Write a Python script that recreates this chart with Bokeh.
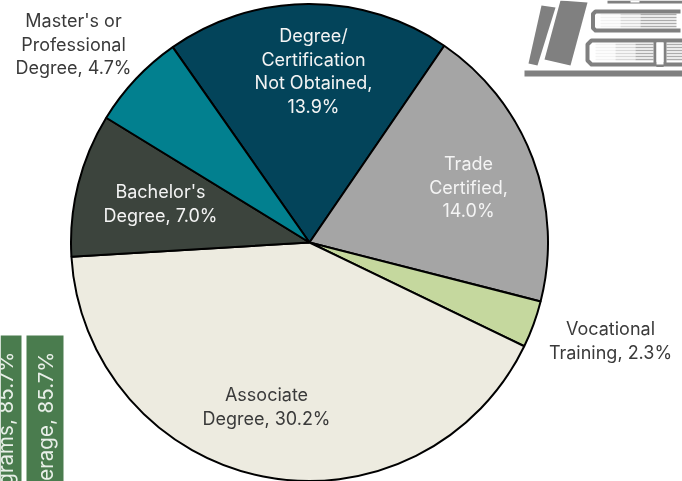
from math import pi
from bokeh.plotting import figure
from bokeh.models import Range1d
from bokeh.core.properties import value
from bokeh.embed import file_html
from bokeh.resources import INLINE

categories = ["Degree/ Certification Not Obtained", "Trade Certified", "Vocational Training",
              "Associate Degree", "Bachelor's Degree", "Master's or Professional Degree"]
values = [13.9, 14.0, 2.3, 30.2, 7.0, 4.7]
colors = ["#03445A", "#A5A5A5", "#C5D89E", "#EDEBE0", "#3C443D", "#02808F"]
label_lines = [["Degree/", "Certification", "Not Obtained,", "13.9%"],
               ["Trade", "Certified,", "14.0%"],
               ["Vocational", "Training, 2.3%"],
               ["Associate", "Degree, 30.2%"],
               ["Bachelor's", "Degree, 7.0%"],
               ["Master's or", "Professional", "Degree, 4.7%"]]
label_colors = ["#F4F4F4", "#F4F4F4", "#3A3A3A", "#3A3A3A", "#F4F4F4", "#3A3A3A"]
label_x = [313, 468, 610, 266, 160, 73]
label_y = [35, 163, 328, 394, 191, 20]
bar_labels = ["grams, 85.7%", "erage, 85.7%"]

W, H = 682, 481
p = figure(width=W, height=H, output_backend="svg", toolbar_location=None,
           x_range=Range1d(0, W), y_range=Range1d(H, 0), min_border=0,
           outline_line_color=None, background_fill_color="white", border_fill_color="white")
p.axis.visible = False
p.grid.visible = False
p.styles = {"position": "fixed", "left": "0px", "top": "0px"}

# pie: wedge angles are measured on screen, running clockwise from the top-left edge
cx, cy, r = 309, 242, 238.5
total = sum(values)
a = 125.0 * pi / 180
for v, c in zip(values, colors):
    b = a - v / total * 2 * pi
    p.wedge([cx], [cy], radius=r, start_angle=a, end_angle=b, direction="clock",
            fill_color=c, line_color="black", line_width=2)
    a = b

FONT = "Inter"
for lines, col, x, y in zip(label_lines, label_colors, label_x, label_y):
    for i, s in enumerate(lines):
        p.text([x], [y + i * 23.5], text=[s], text_color=col, text_align="center",
               text_baseline="middle", text_font=value(FONT), text_font_size="18px")

# cut-off green bars
for x0, x1, xt, s in zip([0, 26], [21, 63], [4.5, 45], bar_labels):
    p.quad(left=[x0], right=[x1], top=[335], bottom=[481], fill_color="#4A7C4E", line_color=None)
    p.text([xt], [351], text=[s], angle=pi / 2, text_color="#E8EFE8", text_align="right",
           text_baseline="middle", text_font=value(FONT), text_font_size="20.5px")

# book icon
G = "#808080"
p.patch([541, 555, 537, 528], [5, 7, 65, 63], fill_color=G, line_color=None)
p.patch([560, 587, 570, 544], [0, 2, 65, 59], fill_color=G, line_color=None)
p.quad(left=[524], right=[682], top=[70], bottom=[76], fill_color=G, line_color=None)
p.quad(left=[607], right=[682], top=[0], bottom=[3], fill_color=G, line_color=None)
p.quad(left=[630], right=[639], top=[0], bottom=[2], fill_color="white", line_color=None)
p.line([680, 595, 592.5, 592.5, 595, 680], [11, 11, 13.5, 27.5, 30, 30], line_color=G, line_width=4, line_join="round")
p.line([682, 591, 587, 587, 591, 682], [40, 40, 44, 60, 64, 64], line_color=G, line_width=4, line_join="round")
steps = [(600, 620, 0.12), (620, 640, 0.35), (640, 676, 0.75)]
for y in [14, 17, 20, 23, 26]:
    for x0, x1, al in steps:
        p.line([x0, x1], [y, y], line_color="#909090", line_alpha=al, line_width=1.5)
for y in [44, 47, 50, 53, 56, 59]:
    for x0, x1, al in [(595, 615, 0.12), (615, 635, 0.35), (635, 653, 0.75), (666, 682, 0.75)]:
        p.line([x0, x1], [y, y], line_color="#909090", line_alpha=al, line_width=1.5)
p.line([654.5, 654.5, 657, 662, 664.5, 664.5], [41, 62, 65, 65, 62, 41], line_color=G, line_width=3, line_join="round")
p.quad(left=[656], right=[663], top=[42], bottom=[64], fill_color="white", line_color=None)

html = file_html(p, INLINE)
open("out.html", "w").write(html)
